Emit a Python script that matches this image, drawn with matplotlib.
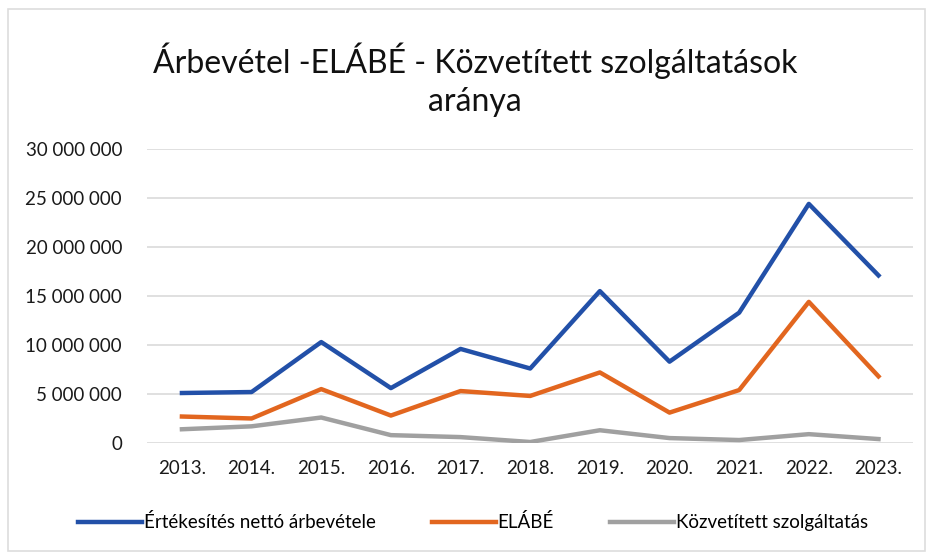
import matplotlib.pyplot as plt
from matplotlib.patches import Rectangle

# adatok
years = ["2013.", "2014.", "2015.", "2016.", "2017.", "2018.",
         "2019.", "2020.", "2021.", "2022.", "2023."]
arbevetel = [5.1e6, 5.2e6, 10.3e6, 5.6e6, 9.6e6, 7.6e6,
             15.5e6, 8.3e6, 13.3e6, 24.4e6, 17.1e6]
elabe = [2.7e6, 2.5e6, 5.5e6, 2.8e6, 5.3e6, 4.8e6,
         7.2e6, 3.1e6, 5.4e6, 14.4e6, 6.8e6]
kozvetitett = [1.4e6, 1.7e6, 2.6e6, 0.8e6, 0.6e6, 0.1e6,
               1.3e6, 0.5e6, 0.3e6, 0.9e6, 0.4e6]
yticks = [0, 5e6, 10e6, 15e6, 20e6, 25e6, 30e6]

plt.rcParams["font.family"] = ["Lato", "DejaVu Sans"]

fig = plt.figure(figsize=(9.31, 5.54), dpi=100)
ax = fig.add_axes([0.158, 0.2004, 0.823, 0.5306])

x = list(range(len(years)))
ax.plot(x, arbevetel, color="#2250A8", linewidth=3.2, label="Értékesítés nettó árbevétele")
ax.plot(x, elabe, color="#E2661F", linewidth=3.2, label="ELÁBÉ")
ax.plot(x, kozvetitett, color="#A0A0A0", linewidth=3.2, label="Közvetített szolgáltatás")

ax.set_xlim(-0.5, len(years) - 0.5)
ax.set_ylim(0, 30e6)
ax.set_yticks(yticks)
ax.set_yticklabels([f"{int(v):,}".replace(",", " ") for v in yticks])
ax.set_xticks(x)
ax.set_xticklabels(years)
ax.tick_params(length=0, labelsize=13.5, colors="#1a1a1a")
ax.tick_params(axis="y", pad=18)
ax.tick_params(axis="x", pad=12)
ax.grid(axis="y", color="#DADADA", linewidth=1.2)
ax.set_axisbelow(True)
for s in ax.spines.values():
    s.set_visible(False)

fig.text(0.51, 0.856, "Árbevétel -ELÁBÉ - Közvetített szolgáltatások\naránya",
         ha="center", va="center", fontsize=23, color="#111111", linespacing=1.3)

fig.legend(loc="center", bbox_to_anchor=(0.508, 0.057), ncol=3, frameon=False,
           fontsize=13.5, handlelength=3.4, columnspacing=3.0, handletextpad=0.1)

# keret
fig.patches.append(Rectangle((0.009, 0.005), 0.985, 0.978, transform=fig.transFigure,
                             fill=False, edgecolor="#DDDDDD", linewidth=1.2))

fig.savefig("out.png", dpi=100)
